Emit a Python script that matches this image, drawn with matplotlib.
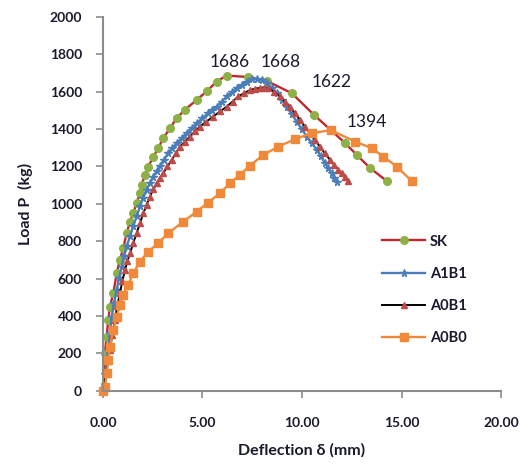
import matplotlib
matplotlib.use("Agg")
import matplotlib.pyplot as plt

# ---- data ----
sk_d = [0, 0.10, 0.18, 0.27, 0.35, 0.52, 0.69, 0.85, 1.02, 1.19, 1.36, 1.52, 1.69, 1.86, 1.94,
        2.11, 2.28, 2.53, 2.78, 3.03, 3.37, 3.70, 4.12, 4.71, 5.21, 5.71, 6.22, 7.30, 8.23,
        9.48, 10.60, 12.16, 12.75, 13.42, 14.26]
sk_p = [0, 202, 290, 380, 451, 522, 629, 701, 763, 843, 905, 950, 1004, 1057, 1102,
        1155, 1199, 1253, 1298, 1351, 1405, 1458, 1503, 1556, 1601, 1654, 1686, 1678, 1657,
        1592, 1476, 1325, 1262, 1191, 1122]

a1b1_d = [0, 0.10, 0.18, 0.27, 0.35, 0.44, 0.56, 0.69, 0.81, 0.94, 1.06, 1.19, 1.36, 1.52,
          1.69, 1.86, 2.02, 2.19, 2.36, 2.53, 2.70, 2.86, 3.07, 3.28, 3.49, 3.70, 3.95, 4.20,
          4.45, 4.71, 5.00, 5.29, 5.50, 5.71, 5.97, 6.22, 6.47, 6.72, 6.97, 7.22, 7.47, 7.72,
          7.97, 8.23, 8.48, 8.73, 8.98, 9.23, 9.48, 9.73, 9.98, 10.24, 10.49, 10.74, 10.95,
          11.16, 11.33, 11.49, 11.62, 11.74]
a1b1_p = [0, 90, 160, 219, 310, 397, 470, 540, 605, 665, 720, 772, 826, 879,
          933, 986, 1032, 1075, 1112, 1146, 1174, 1200, 1237, 1271, 1298, 1324, 1351, 1378,
          1405, 1431, 1458, 1485, 1502, 1520, 1547, 1574, 1597, 1619, 1637, 1654, 1665, 1668,
          1660, 1645, 1620, 1592, 1557, 1520, 1480, 1440, 1400, 1360, 1325, 1289, 1254,
          1218, 1190, 1164, 1140, 1119]

a0b1_d = [0, 0.15, 0.25, 0.35, 0.47, 0.60, 0.72, 0.85, 0.98, 1.11, 1.23, 1.36, 1.52, 1.69,
          1.86, 2.03, 2.19, 2.36, 2.53, 2.70, 2.86, 3.03, 3.24, 3.45, 3.66, 3.87, 4.12, 4.37,
          4.62, 4.87, 5.20, 5.54, 5.88, 6.22, 6.51, 6.80, 7.10, 7.39, 7.64, 7.89, 8.10, 8.31,
          8.60, 8.89, 9.15, 9.40, 9.65, 9.90, 10.15, 10.40, 10.65, 10.90, 11.15, 11.41, 11.62,
          11.83, 12.00, 12.16, 12.33]
a0b1_p = [0, 90, 160, 219, 300, 380, 455, 522, 590, 647, 695, 736, 790, 843,
          897, 950, 995, 1039, 1077, 1111, 1138, 1164, 1200, 1235, 1271, 1306, 1333, 1360,
          1387, 1413, 1440, 1467, 1494, 1520, 1547, 1574, 1593, 1608, 1616, 1620, 1622, 1618,
          1598, 1574, 1547, 1520, 1485, 1449, 1413, 1378, 1342, 1306, 1270, 1235, 1208,
          1182, 1164, 1146, 1120]

a0b0_d = [0, 0.10, 0.19, 0.27, 0.35, 0.52, 0.69, 0.85, 1.02, 1.27, 1.52, 1.86, 2.28, 2.78,
          3.28, 4.04, 4.71, 5.29, 5.88, 6.38, 6.88, 7.39, 8.06, 8.81, 9.65, 10.49, 11.45,
          12.66, 13.50, 14.09, 14.76, 15.51]
a0b0_p = [0, 23, 95, 166, 237, 326, 397, 460, 513, 567, 629, 691, 745, 790,
          843, 905, 959, 1007, 1057, 1111, 1155, 1205, 1262, 1306, 1346, 1378, 1394,
          1333, 1298, 1253, 1199, 1122]

peak_labels = ["1686", "1668", "1622", "1394"]
peak_label_pos = [(6.38, 1759), (8.94, 1759), (11.5, 1652), (13.27, 1439)]

x_ticks = [0, 5, 10, 15, 20]
y_ticks = [0, 200, 400, 600, 800, 1000, 1200, 1400, 1600, 1800, 2000]

# ---- styling ----
plt.rcParams['font.family'] = ['Lato', 'DejaVu Sans']
txt = '#1a1a2e'
axcol = '#8c8c8c'

fig = plt.figure(figsize=(5.28, 4.67), dpi=100)
ax = fig.add_axes([0.195, 0.163, 0.754, 0.801])

ax.plot(sk_d, sk_p, color='#c0282d', lw=1.7, marker='o', ms=5.5,
        mfc='#8db146', mec='#8db146', label='SK')
ax.plot(a1b1_d, a1b1_p, color='#4a7ebb', lw=1.7, marker='*', ms=5.5,
        mfc='#4a7ebb', mec='#4a7ebb', label='A1B1')
ax.plot(a0b1_d, a0b1_p, color='#000000', lw=1.4, marker='^', ms=4.5,
        mfc='#be4b48', mec='#be4b48', label='A0B1')
ax.plot(a0b0_d, a0b0_p, color='#f08a3a', lw=1.7, marker='s', ms=5.5,
        mfc='#f08a3a', mec='#f08a3a', label='A0B0')

for lab, (xx, yy) in zip(peak_labels, peak_label_pos):
    ax.text(xx, yy, lab, ha='center', va='center', fontsize=12.5, color=txt)

ax.set_xlim(0, 20)
ax.set_ylim(0, 2000)
ax.set_xticks(x_ticks)
ax.set_xticklabels([f"{v:.2f}" for v in x_ticks])
ax.set_yticks(y_ticks)
ax.set_yticklabels([str(v) for v in y_ticks])

for s in ['top', 'right']:
    ax.spines[s].set_visible(False)
for s in ['left', 'bottom']:
    ax.spines[s].set_color(axcol)
    ax.spines[s].set_linewidth(1.5)
ax.tick_params(axis='both', colors=axcol, length=5, width=1.2, direction='out',
               labelcolor=txt, labelsize=10)
ax.tick_params(axis='x', pad=14)
ax.tick_params(axis='y', pad=10)
for lbl in ax.get_xticklabels() + ax.get_yticklabels():
    lbl.set_fontweight('bold')

ax.set_xlabel('Deflection δ (mm)', fontsize=11.5, fontweight='bold', color=txt, labelpad=10)
ax.set_ylabel('Load P  (kg)', fontsize=11.5, fontweight='bold', color=txt, labelpad=12)

leg = ax.legend(loc='upper left', bbox_to_anchor=(0.70, 0.418), frameon=False,
                handlelength=3.0, handletextpad=0.3, labelspacing=1.25,
                borderpad=0, borderaxespad=0, prop={'weight': 'bold', 'size': 10.5})
for t in leg.get_texts():
    t.set_color(txt)
for ln in ax.lines:
    ln.set_clip_on(False)

fig.savefig('out.png', dpi=100)
